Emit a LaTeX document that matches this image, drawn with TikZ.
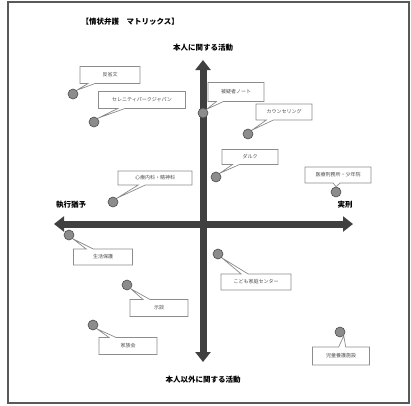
\documentclass[tikz,border=0pt]{standalone}
\usepackage{fontspec}
\newfontfamily\jp{Noto Sans CJK JP}
\usetikzlibrary{arrows.meta,shapes.callouts}
\begin{document}
\begin{tikzpicture}[x=1pt,y=-1pt,
  axisarrow/.style={draw=black!75,line width=7pt,-{Triangle[width=15pt,length=10pt]}},
  dotmark/.style={circle,fill=black!45,draw=black!70,line width=0.6pt,inner sep=0pt,minimum size=10pt},
  callbox/.style={rectangle callout,draw=black!45,fill=white,line width=0.7pt,
    font=\jp\fontsize{5}{6}\selectfont,text=black!70,inner sep=0pt,
    callout pointer width=7pt},
  axislabel/.style={font=\jp\bfseries\fontsize{7.5}{9}\selectfont}]
\useasboundingbox (0,0) rectangle (411,405);
\draw[black!65,line width=1.6pt] (8,2) rectangle (409,403);
\node[font=\jp\bfseries\fontsize{7.5}{9}\selectfont,anchor=west] (title) at (78,22) {【情状弁護　マトリックス】};
\node[axislabel] (top) at (203,48) {本人に関する活動};
\node[axislabel] (bottom) at (203,380) {本人以外に関する活動};
\node[axislabel] (left) at (71,205) {執行猶予};
\node[axislabel] (right) at (345,205) {実刑};
\coordinate (vt) at (203,60);
\coordinate (vb) at (203,362);
\coordinate (hl) at (54,224);
\coordinate (hr) at (353,224);
\coordinate (c) at (203,224);
\draw[axisarrow] (c) -- (vt);
\draw[axisarrow] (c) -- (vb);
\draw[axisarrow] (c) -- (hl);
\draw[axisarrow] (c) -- (hr);
% dots
\node[dotmark] (d1) at (73,94) {};
\node[dotmark] (d2) at (94,122) {};
\node[dotmark] (d3) at (203,113) {};
\node[dotmark] (d4) at (248,134) {};
\node[dotmark] (d5) at (113,202) {};
\node[dotmark] (d6) at (216,177) {};
\node[dotmark] (d7) at (336,192) {};
\node[dotmark] (d8) at (69,235) {};
\node[dotmark] (d9) at (218,254) {};
\node[dotmark] (d10) at (127,285) {};
\node[dotmark] (d11) at (93,325) {};
\node[dotmark] (d12) at (340,332) {};
% callouts
\node[callbox,minimum width=60pt,minimum height=17pt,callout absolute pointer={(d1.north east)}] (b1) at (110,75) {反省文};
\node[callbox,minimum width=87pt,minimum height=17pt,callout absolute pointer={(d2.north east)}] (b2) at (142,100) {セレニティパークジャパン};
\node[callbox,minimum width=56pt,minimum height=19pt,callout absolute pointer={(d3.north east)}] (b3) at (236,92) {被疑者ノート};
\node[callbox,minimum width=56pt,minimum height=16pt,callout absolute pointer={(d4.north east)}] (b4) at (284,112) {カウンセリング};
\node[callbox,minimum width=74pt,minimum height=14pt,callout absolute pointer={(d5.north east)}] (b5) at (155,178) {心療内科・精神科};
\node[callbox,minimum width=56pt,minimum height=15pt,callout absolute pointer={(d6.north east)}] (b6) at (250,157) {ダルク};
\node[callbox,minimum width=66pt,minimum height=16pt,callout absolute pointer={(d7.north)}] (b7) at (338,175) {医療刑務所・少年院};
\node[callbox,minimum width=59pt,minimum height=16pt,callout absolute pointer={(d8.south east)}] (b8) at (103,257) {生活保護};
\node[callbox,minimum width=70pt,minimum height=16pt,callout absolute pointer={(d9.south east)}] (b9) at (256,282) {こども家庭センター};
\node[callbox,minimum width=58pt,minimum height=17pt,callout absolute pointer={(d10.south east)}] (b10) at (159,308) {示談};
\node[callbox,minimum width=58pt,minimum height=17pt,callout absolute pointer={(d11.south east)}] (b11) at (128,346) {家族会};
\node[callbox,minimum width=57pt,minimum height=18pt,callout absolute pointer={(d12.south east)}] (b12) at (341,356) {児童養護施設};
\end{tikzpicture}
\end{document}
